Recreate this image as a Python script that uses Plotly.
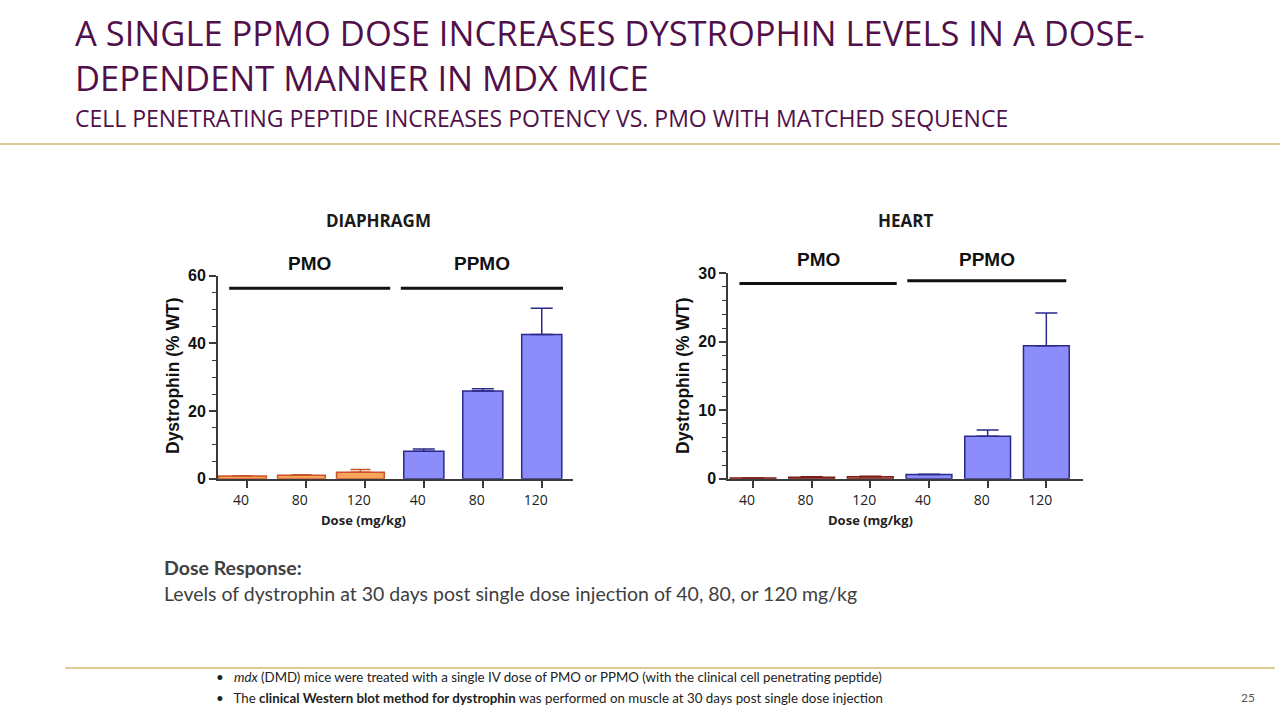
import plotly.graph_objects as go

# ---------------- data ----------------
doses = ["40", "80", "120", "40", "80", "120"]
groups = ["PMO", "PPMO"]

diaph_pmo = [0.8, 1.0, 1.9]
diaph_pmo_err = [0.1, 0.2, 0.8]
diaph_ppmo = [8.1, 25.9, 42.6]
diaph_ppmo_err = [0.7, 0.7, 7.8]

heart_pmo = [0.1, 0.2, 0.3]
heart_pmo_err = [0.0, 0.1, 0.05]
heart_ppmo = [0.6, 6.2, 19.4]
heart_ppmo_err = [0.05, 0.9, 4.8]

panel_titles = ["DIAPHRAGM", "HEART"]
y_title = "Dystrophin (% WT)"
x_title = "Dose (mg/kg)"

# ---------------- styles ----------------
W, H = 1280, 720
PURPLE = "#51104A"
GOLD = "#DECA95"
TXT = "#404040"
AX = "#3A3A3A"
NARROW = "Liberation Sans Narrow, Arial Narrow, Open Sans, sans-serif"
BODY = "Lato, Open Sans, sans-serif"
ARIAL = "Liberation Sans, Arial, sans-serif"


def px(x):
    return x / W


def py(y):
    return 1 - y / H


fig = go.Figure()

idx_pmo = [0, 1, 2]
idx_ppmo = [3, 4, 5]

# Diaphragm traces
fig.add_trace(go.Bar(
    x=idx_pmo, y=diaph_pmo, width=0.81, offset=-0.48,
    marker=dict(color="#F8A35A", line=dict(color="#C9552A", width=1.5)),
    error_y=dict(type="data", symmetric=False, array=diaph_pmo_err,
                 arrayminus=[0, 0, 0], color="#C9552A", thickness=1.5, width=10),
    xaxis="x", yaxis="y", showlegend=False))
fig.add_trace(go.Bar(
    x=idx_ppmo, y=diaph_ppmo, width=0.68,
    marker=dict(color="#8C8CFA", line=dict(color="#2A2A8A", width=1.5)),
    error_y=dict(type="data", symmetric=False, array=diaph_ppmo_err,
                 arrayminus=[0, 0, 0], color="#2A2A8A", thickness=1.5, width=11),
    xaxis="x", yaxis="y", showlegend=False))

# Heart traces
fig.add_trace(go.Bar(
    x=idx_pmo, y=heart_pmo, width=0.78,
    marker=dict(color=["#8E2A22", "#B8604A", "#D27C5C"], line=dict(color="#7A1E1A", width=1.5)),
    error_y=dict(type="data", symmetric=False, array=heart_pmo_err,
                 arrayminus=[0, 0, 0], color="#7A1E1A", thickness=1.5, width=11),
    xaxis="x2", yaxis="y2", showlegend=False))
fig.add_trace(go.Bar(
    x=idx_ppmo, y=heart_ppmo, width=0.78,
    marker=dict(color="#8C8CFA", line=dict(color="#2A2A8A", width=1.5)),
    error_y=dict(type="data", symmetric=False, array=heart_ppmo_err,
                 arrayminus=[0, 0, 0], color="#2A2A8A", thickness=1.5, width=11),
    xaxis="x2", yaxis="y2", showlegend=False))

xcommon = dict(
    tickmode="array", tickvals=list(range(6)), ticktext=doses,
    showline=True, linecolor=AX, linewidth=2, ticks="outside", ticklen=7,
    tickwidth=1.5, tickcolor=AX, showgrid=False, zeroline=False,
    tickfont=dict(family="Open Sans, sans-serif", size=14, color="#222"),
    ticklabelshift=-6, fixedrange=True, automargin=False,
)
ycommon = dict(
    showline=True, linecolor=AX, linewidth=2, ticks="outside", ticklen=7,
    tickwidth=1.5, tickcolor=AX, showgrid=False, zeroline=False,
    tickfont=dict(family=ARIAL, size=16, color="#111", weight="bold"),
    fixedrange=True, automargin=False,
)

fig.update_layout(
    width=W, height=H, autosize=False,
    margin=dict(l=0, r=0, t=0, b=0, pad=0, autoexpand=False),
    paper_bgcolor="white", plot_bgcolor="white",
    bargap=0.2,
    xaxis=dict(domain=[px(218), px(573)], range=[-0.49, 5.53], anchor="y", **xcommon),
    yaxis=dict(domain=[py(478.7), py(275.7)], range=[0, 60], anchor="x",
               tickvals=[0, 20, 40, 60],
               minor=dict(dtick=5, ticks="outside", ticklen=4, tickcolor=AX, tickwidth=1.2),
               **ycommon),
    xaxis2=dict(domain=[px(728.3), px(1083.3)], range=[-0.42, 5.63], anchor="y2", **xcommon),
    yaxis2=dict(domain=[py(478.7), py(273.3)], range=[0, 30], anchor="x2",
                tickvals=[0, 10, 20, 30],
                minor=dict(dtick=2, ticks="outside", ticklen=4, tickcolor=AX, tickwidth=1.2),
                **ycommon),
)

shapes = []
annotations = []

# group bracket lines and labels
brackets = [
    ("x", "y", [(-0.30, 2.43, 56.3), (2.61, 5.36, 56.3)], 263),
    ("x2", "y2", [(-0.23, 2.45, 28.5), (2.63, 5.34, 28.9)], 259),
]
for xr, yr, spans, label_y in brackets:
    for g, (x0, x1, yv) in zip(groups, spans):
        shapes.append(dict(type="line", xref=xr, yref=yr, x0=x0, x1=x1, y0=yv, y1=yv,
                           line=dict(color="#111", width=3)))
        annotations.append(dict(xref=xr, yref="paper", x=(x0 + x1) / 2, y=py(label_y),
                                text=f"<b>{g}</b>", showarrow=False,
                                font=dict(family=ARIAL, size=19, color="#111"),
                                xanchor="center", yanchor="middle"))

# panel titles
for t, cx in zip(panel_titles, [378, 905]):
    annotations.append(dict(xref="paper", yref="paper", x=px(cx), y=py(220), text=f"<b>{t}</b>",
                            showarrow=False, font=dict(family="Open Sans, sans-serif", size=17, color="#1A1A1A"),
                            xanchor="center", yanchor="middle"))

# axis titles
for cx in [173, 683]:
    annotations.append(dict(xref="paper", yref="paper", x=px(cx), y=py(376), text=f"<b>{y_title}</b>",
                            textangle=-90, showarrow=False,
                            font=dict(family=ARIAL, size=17.5, color="#111"),
                            xanchor="center", yanchor="middle"))
for cx in [363, 870]:
    annotations.append(dict(xref="paper", yref="paper", x=px(cx), y=py(520), text=f"<b>{x_title}</b>",
                            showarrow=False, font=dict(family="Open Sans, sans-serif", size=13, color="#222"),
                            xanchor="center", yanchor="middle"))

# slide titles
annotations += [
    dict(xref="paper", yref="paper", x=px(73), y=py(55), xanchor="left", yanchor="middle",
         align="left",
         text="A SINGLE PPMO DOSE INCREASES DYSTROPHIN LEVELS IN A DOSE-<br>DEPENDENT MANNER IN MDX MICE",
         showarrow=False, font=dict(family=NARROW, size=34.5, color=PURPLE)),
    dict(xref="paper", yref="paper", x=px(73), y=py(118), xanchor="left", yanchor="middle",
         text="CELL PENETRATING PEPTIDE INCREASES POTENCY VS. PMO WITH MATCHED SEQUENCE", showarrow=False,
         font=dict(family=NARROW, size=23, color=PURPLE)),
    dict(xref="paper", yref="paper", x=px(162), y=py(567), xanchor="left", yanchor="middle",
         text="<b>Dose Response:</b>", showarrow=False,
         font=dict(family=BODY, size=19.5, color=TXT)),
    dict(xref="paper", yref="paper", x=px(162), y=py(593), xanchor="left", yanchor="middle",
         text="Levels of dystrophin at 30 days post single dose injection of 40, 80, or 120 mg/kg",
         showarrow=False, font=dict(family=BODY, size=19.5, color=TXT)),
    dict(xref="paper", yref="paper", x=px(214), y=py(677), xanchor="left", yanchor="middle",
         text="•   <i>mdx</i> (DMD) mice were treated with a single IV dose of PMO or PPMO (with the clinical cell penetrating peptide)",
         showarrow=False, font=dict(family=BODY, size=13.3, color="#222")),
    dict(xref="paper", yref="paper", x=px(214), y=py(698), xanchor="left", yanchor="middle",
         text="•   The <b>clinical Western blot method for dystrophin</b> was performed on muscle at 30 days post single dose injection",
         showarrow=False, font=dict(family=BODY, size=13.3, color="#222")),
    dict(xref="paper", yref="paper", x=px(1248), y=py(697), xanchor="center", yanchor="middle",
         text="25", showarrow=False, font=dict(family=BODY, size=12, color="#555")),
]

# gold rules
shapes += [
    dict(type="line", xref="paper", yref="paper", x0=0, x1=1, y0=py(144), y1=py(144),
         line=dict(color=GOLD, width=2)),
    dict(type="line", xref="paper", yref="paper", x0=px(65), x1=px(1275), y0=py(668), y1=py(668),
         line=dict(color=GOLD, width=2)),
]

fig.update_layout(shapes=shapes, annotations=annotations)
fig.write_html(
    "out.html",
    config={"displayModeBar": False},
    post_script=(
        "document.documentElement.style.margin='0';"
        "document.body.style.margin='0';document.body.style.padding='0';"
        "document.body.style.overflow='hidden';"
        "var d=document.getElementById('{plot_id}');"
        "d.style.position='fixed';d.style.top='0';d.style.left='0';"
    ),
)
